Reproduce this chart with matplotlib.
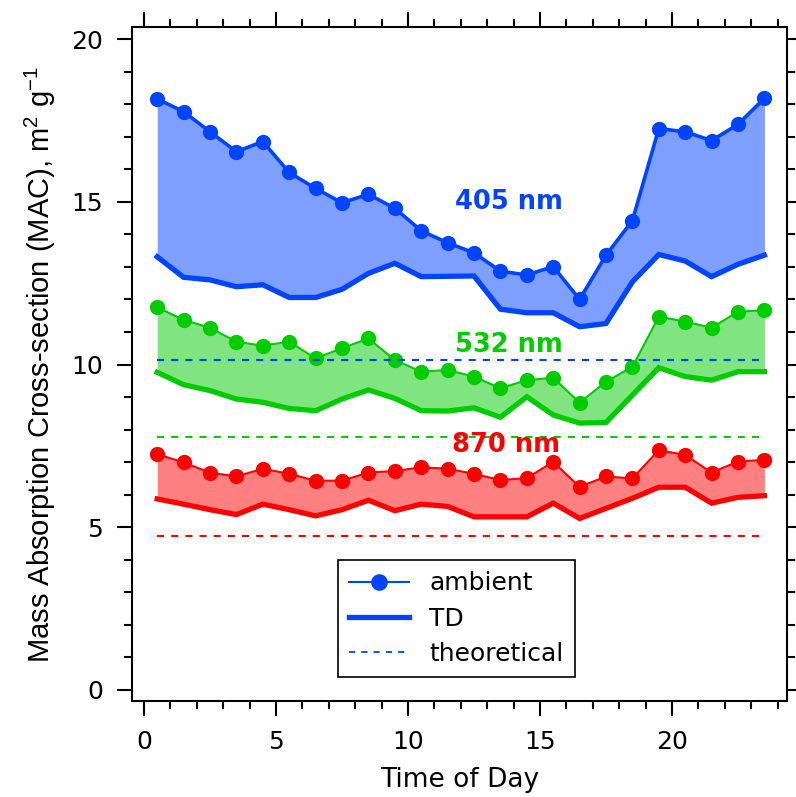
import matplotlib
matplotlib.use("Agg")
import matplotlib.pyplot as plt
from matplotlib.lines import Line2D
import numpy as np

# ---- data ----
hours = [0.5, 1.5, 2.5, 3.5, 4.5, 5.5, 6.5, 7.5, 8.5, 9.5, 10.5, 11.5,
         12.5, 13.5, 14.5, 15.5, 16.5, 17.5, 18.5, 19.5, 20.5, 21.5, 22.5, 23.5]

amb_405 = [18.16, 17.77, 17.15, 16.54, 16.85, 15.90, 15.41, 14.97, 15.23, 14.80, 14.11, 13.74,
           13.43, 12.87, 12.75, 13.01, 12.00, 13.36, 14.42, 17.25, 17.15, 16.88, 17.38, 18.18]
td_405 = [13.31, 12.68, 12.60, 12.39, 12.45, 12.06, 12.06, 12.31, 12.80, 13.11, 12.70, 12.71,
          12.72, 11.70, 11.59, 11.59, 11.16, 11.26, 12.54, 13.38, 13.18, 12.70, 13.08, 13.36]

amb_532 = [11.76, 11.37, 11.13, 10.70, 10.58, 10.70, 10.19, 10.50, 10.80, 10.14, 9.78, 9.83,
           9.63, 9.27, 9.52, 9.59, 8.83, 9.47, 9.93, 11.47, 11.32, 11.13, 11.62, 11.67]
td_532 = [9.76, 9.38, 9.20, 8.94, 8.84, 8.65, 8.58, 8.94, 9.22, 8.96, 8.58, 8.57,
          8.67, 8.38, 9.01, 8.45, 8.20, 8.22, 9.06, 9.90, 9.63, 9.52, 9.78, 9.78]

amb_870 = [7.25, 6.99, 6.68, 6.56, 6.80, 6.64, 6.43, 6.43, 6.68, 6.73, 6.84, 6.80,
           6.64, 6.45, 6.51, 7.01, 6.24, 6.56, 6.50, 7.37, 7.22, 6.68, 7.02, 7.07]
td_870 = [5.87, 5.71, 5.54, 5.39, 5.71, 5.54, 5.35, 5.54, 5.83, 5.51, 5.71, 5.64,
          5.32, 5.32, 5.32, 5.74, 5.27, 5.58, 5.89, 6.23, 6.23, 5.74, 5.92, 5.97]

theo_405 = 10.14
theo_532 = 7.76
theo_870 = 4.73

wl_labels = ["405 nm", "532 nm", "870 nm"]
wl_label_pos = [(13.83, 14.99), (13.83, 10.61), (13.7, 7.53)]

legend_labels = ["ambient", "TD", "theoretical"]
x_label = "Time of Day"
y_label = r"Mass Absorption Cross-section (MAC), m$^{2}$ g$^{-1}$"

# ---- styling ----
line_cols = ["#0044FF", "#00CC00", "#FF0000"]
fill_cols = ["#7F9FFF", "#80E480", "#FF8080"]
amb_lw = [2.6, 1.5, 1.5]

plt.rcParams['font.family'] = ['DejaVu Sans']
plt.rcParams['mathtext.fontset'] = 'custom'
plt.rcParams['mathtext.rm'] = 'Liberation Sans'
plt.rcParams['mathtext.it'] = 'Liberation Sans:italic'
plt.rcParams['mathtext.bf'] = 'Liberation Sans:bold'

fig = plt.figure(figsize=(7.96, 7.97), dpi=100)
ax = fig.add_axes([132/796, 1-701/797, 655/796, 674/797])

series = [(amb_405, td_405, theo_405), (amb_532, td_532, theo_532), (amb_870, td_870, theo_870)]
for i, (amb, td, th) in enumerate(series):
    ax.fill_between(hours, amb, td, color=fill_cols[i], lw=0, zorder=1)
    ax.plot(hours, td, color=line_cols[i], lw=3.8, solid_joinstyle='miter', zorder=3)
    ax.plot(hours, amb, color=line_cols[i], lw=amb_lw[i], marker='o', ms=11,
            markeredgewidth=0, zorder=4)
    ax.plot([hours[0], hours[-1]], [th, th], color=line_cols[i], lw=1.5,
            linestyle=(0, (3.4, 3.4)), zorder=5)

for i, (lab, (tx, ty)) in enumerate(zip(wl_labels, wl_label_pos)):
    ax.text(tx, ty, lab, color=line_cols[i], fontsize=18.5, fontweight='bold',
            ha='center', va='center', zorder=6)

ax.set_xlim(-0.4545, 24.356)
ax.set_ylim(-0.338, 20.37)
ax.set_xticks([0, 5, 10, 15, 20])
ax.set_xticks(np.arange(0, 25, 1), minor=True)
ax.set_yticks([0, 5, 10, 15, 20])
ax.set_yticks(np.arange(0, 21, 1), minor=True)
ax.tick_params(which='both', direction='out', top=True, right=True, width=1.5,
               labelsize=18, color='black')
ax.tick_params(which='major', length=11, pad=10)
ax.tick_params(which='minor', length=5.5)
for s in ax.spines.values():
    s.set_linewidth(1.5)

ax.set_xlabel(x_label, fontsize=19, labelpad=9)

fig.text(40/796, 1-365/797, y_label, rotation=90, ha='center', va='center',
         fontsize=21, family=['Liberation Sans', 'DejaVu Sans'])

handles = [
    Line2D([], [], color=line_cols[0], lw=1.5, marker='o', ms=12, markeredgewidth=0),
    Line2D([], [], color=line_cols[0], lw=3.8),
    Line2D([], [], color=line_cols[0], lw=1.3, linestyle=(0, (3.4, 3.4))),
]
leg = ax.legend(handles, legend_labels, loc='lower left',
                bbox_to_anchor=((338-132)/655, (701-677)/674),
                borderaxespad=0, fontsize=18, handlelength=2.4, handletextpad=0.8,
                labelspacing=0.45, borderpad=0.45, fancybox=False, framealpha=1,
                edgecolor='black')
leg.get_frame().set_linewidth(1.2)

fig.savefig("out.png", dpi=100)
